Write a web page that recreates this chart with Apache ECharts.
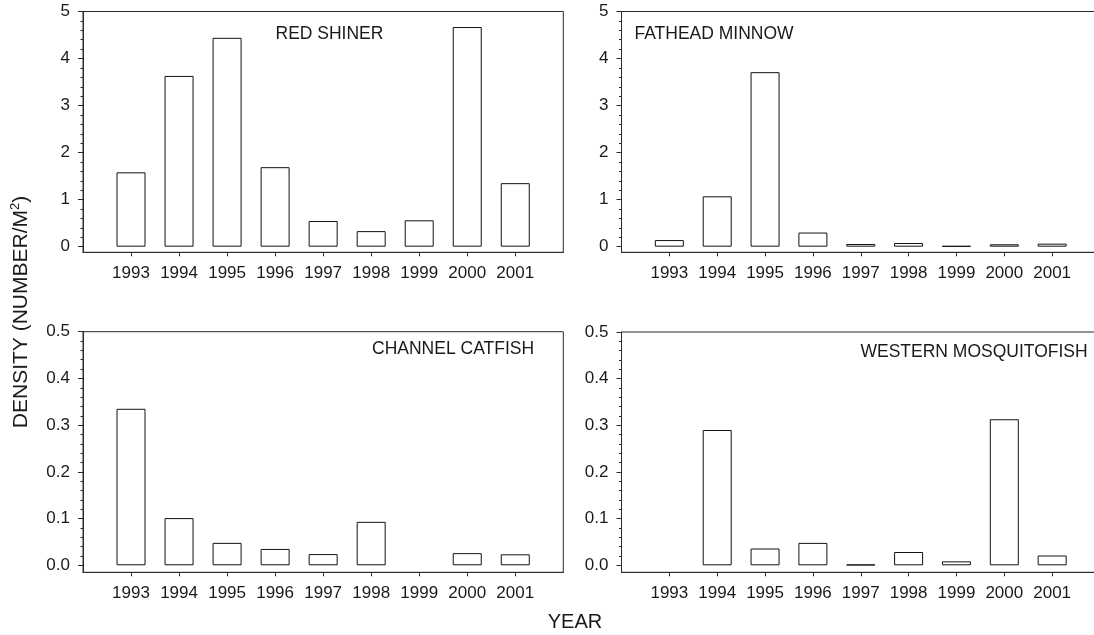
<!DOCTYPE html>
<html>
<head>
<meta charset="utf-8">
<script src="https://cdn.jsdelivr.net/npm/echarts@6/dist/echarts.min.js"></script>
<style>
  html, body { margin: 0; padding: 0; background: #fff; }
  #chart { width: 1094px; height: 635px; }
</style>
</head>
<body>
<div id="chart"></div>
<script>
// Fish density by year (number per square metre)
const years = [1993, 1994, 1995, 1996, 1997, 1998, 1999, 2000, 2001];

const redShiner      = [1.58, 3.63, 4.44, 1.69, 0.545, 0.33, 0.56, 4.67, 1.35];
const fatheadMinnow  = [0.14, 1.07, 3.71, 0.30, 0.057, 0.078, 0.014, 0.05, 0.064];
const channelCatfish = [0.335, 0.101, 0.048, 0.035, 0.024, 0.093, null, 0.026, 0.0235];
const westernMosquitofish = [null, 0.29, 0.036, 0.048, 0.0015, 0.0285, 0.0085, 0.313, 0.021];

const ticksTop     = [0, 1, 2, 3, 4, 5];
const ticksBottom  = [0, 0.1, 0.2, 0.3, 0.4, 0.5];
const minorTop     = [];
for (let v = 0; v <= 5.0001; v += 0.2) minorTop.push(+v.toFixed(2));
const minorBottom  = [];
for (let v = 0; v <= 0.50001; v += 0.02) minorBottom.push(+v.toFixed(3));

const FONT = '"Liberation Sans", Arial, sans-serif';
const INK = '#1a1a1a';
const LINE = '#2a2a2a';
const TICK_FONT = 17;

// panel layout: grid box and y range for each species
const panels = [
  { name: 'RED SHINER', data: redShiner, grid: { left: 83, top: 11.5, width: 480.3, height: 240.8 },
    yMin: -0.12, yMax: 5, ticks: ticksTop, minor: minorTop, digits: 0,
    title: { left: 275.5, top: 25.5 } },
  { name: 'FATHEAD MINNOW', data: fatheadMinnow, grid: { left: 621.5, top: 11.5, width: 478.5, height: 240.8 },
    yMin: -0.12, yMax: 5, ticks: ticksTop, minor: minorTop, digits: 0,
    title: { left: 634.5, top: 26 } },
  { name: 'CHANNEL CATFISH', data: channelCatfish, grid: { left: 83, top: 331.7, width: 480.3, height: 240.6 },
    yMin: -0.015, yMax: 0.5, ticks: ticksBottom, minor: minorBottom, digits: 1,
    title: { left: 372, top: 340.5 } },
  { name: 'WESTERN MOSQUITOFISH', data: westernMosquitofish, grid: { left: 621.5, top: 332, width: 478.5, height: 240.3 },
    yMin: -0.015, yMax: 0.5, ticks: ticksBottom, minor: minorBottom, digits: 1,
    title: { left: 860.5, top: 344 } }
];

const grids = [], xAxes = [], yAxes = [], series = [], titles = [];

panels.forEach((p, i) => {
  grids.push(Object.assign({
    show: true, borderColor: LINE, borderWidth: 1, backgroundColor: 'transparent',
    containLabel: false, outerBoundsMode: 'none'
  }, p.grid));

  xAxes.push({
    type: 'value', gridIndex: i, min: 1992, max: 2002, interval: 1,
    axisLine: { show: true, onZero: false, lineStyle: { color: LINE, width: 1 } },
    axisTick: { show: true, customValues: years, length: 4, lineStyle: { color: LINE } },
    axisLabel: { customValues: years, margin: 13, color: INK, fontSize: TICK_FONT, fontFamily: FONT,
      formatter: v => String(v) },
    splitLine: { show: false }
  });

  // major ticks with labels
  yAxes.push({
    type: 'value', gridIndex: i, position: 'left', min: p.yMin, max: p.yMax,
    axisLine: { show: true, onZero: false, lineStyle: { color: LINE, width: 1 } },
    axisTick: { show: true, customValues: p.ticks, length: 5, lineStyle: { color: LINE } },
    axisLabel: { customValues: p.ticks, margin: 13, color: INK, fontSize: TICK_FONT, fontFamily: FONT,
      formatter: v => Number(v).toFixed(p.digits) },
    splitLine: { show: false }
  });
  // minor ticks
  yAxes.push({
    type: 'value', gridIndex: i, position: 'left', min: p.yMin, max: p.yMax,
    axisLine: { show: false, onZero: false },
    axisTick: { show: true, customValues: p.minor, length: 2.5, lineStyle: { color: LINE } },
    axisLabel: { show: false },
    splitLine: { show: false }
  });

  series.push({
    type: 'bar', xAxisIndex: i, yAxisIndex: i * 2,
    barWidth: 29,
    data: years.map((y, k) => [y, p.data[k] == null ? '-' : p.data[k]]),
    itemStyle: { color: '#fff', borderColor: '#111', borderWidth: 1 },
    emphasis: { disabled: true },
    silent: true
  });

  titles.push({
    text: p.name, left: p.title.left, top: p.title.top, padding: 0,
    textStyle: { fontSize: 17.5, fontWeight: 'normal', color: INK, fontFamily: FONT, lineHeight: 17 }
  });
});

const chart = echarts.init(document.getElementById('chart'), null, { renderer: 'canvas' });
chart.setOption({
  backgroundColor: '#fff',
  animation: false,
  title: titles,
  grid: grids,
  xAxis: xAxes,
  yAxis: yAxes,
  series: series,
  graphic: [
    {
      type: 'text', x: 575, y: 622,
      style: { text: 'YEAR', fill: INK, font: '20px ' + FONT, textAlign: 'center', textVerticalAlign: 'middle' }
    },
    {
      type: 'text', x: 21, y: 312, rotation: Math.PI / 2,
      style: {
        text: 'DENSITY (NUMBER/M{sup|2})', fill: INK, font: '21px ' + FONT,
        textAlign: 'center', textVerticalAlign: 'middle',
        rich: { sup: { fontSize: 13, fontFamily: FONT, fill: INK, padding: [0, 0, 11, 0] } }
      }
    }
  ]
});
</script>
</body>
</html>
